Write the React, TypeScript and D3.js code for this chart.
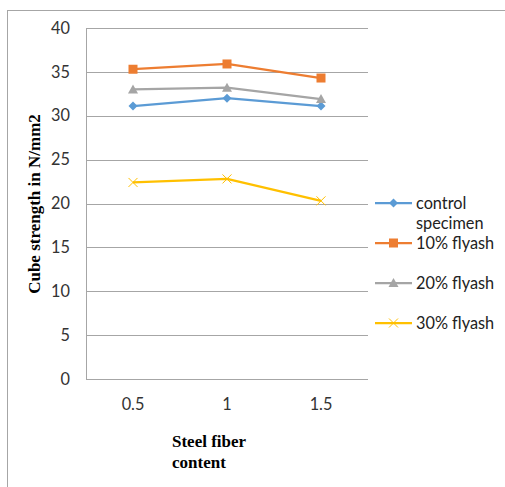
import React from "react";
import * as d3 from "d3";

const categories = ["0.5", "1", "1.5"];
const seriesNames = ["control specimen", "10% flyash", "20% flyash", "30% flyash"];
const controlValues = [31.1, 32.0, 31.1];
const fly10Values = [35.3, 35.9, 34.3];
const fly20Values = [33.0, 33.2, 31.9];
const fly30Values = [22.4, 22.8, 20.3];
const yTicks = [0, 5, 10, 15, 20, 25, 30, 35, 40];
const colors = ["#5B9BD5", "#ED7D31", "#A5A5A5", "#FFC000"];
const markers = ["diamond", "square", "triangle", "x"];

const W = 505, H = 487;
const plot = { left: 86, right: 368, top: 28, bottom: 379 };

function Marker({ type, x, y, color }: { type: string; x: number; y: number; color: string }) {
  if (type === "diamond") {
    const s = 4.5;
    return <path d={`M${x},${y - s}L${x + s},${y}L${x},${y + s}L${x - s},${y}Z`} fill={color} />;
  }
  if (type === "square") {
    const s = 4.5;
    return <rect x={x - s} y={y - s} width={2 * s} height={2 * s} fill={color} />;
  }
  if (type === "triangle") {
    const s = 5;
    return <path d={`M${x},${y - s}L${x + s},${y + s * 0.8}L${x - s},${y + s * 0.8}Z`} fill={color} />;
  }
  const s = 4.5;
  return (
    <path d={`M${x - s},${y - s}L${x + s},${y + s}M${x - s},${y + s}L${x + s},${y - s}`} stroke={color} strokeWidth={1} fill="none" />
  );
}

export default function App() {
  const series = [controlValues, fly10Values, fly20Values, fly30Values];
  const x = d3.scaleBand().domain(categories).range([plot.left, plot.right]);
  const y = d3.scaleLinear().domain([0, 40]).range([plot.bottom, plot.top]);
  const line = d3
    .line<number>()
    .x((_, i) => (x(categories[i]) as number) + x.bandwidth() / 2)
    .y((d) => y(d));

  const tickFont = "Lato, 'Open Sans', sans-serif";
  const fs = 16.3;
  const legendRows = [
    { y: 203, lines: ["control", "specimen"] },
    { y: 243, lines: ["10% flyash"] },
    { y: 283, lines: ["20% flyash"] },
    { y: 323, lines: ["30% flyash"] },
  ];

  return (
    <svg width={W} height={H} style={{ position: "absolute", left: 0, top: 0, background: "#fff" }}>
      <rect x={7.5} y={10.5} width={W + 10} height={H + 10} fill="#fff" stroke="#a6a6a6" strokeWidth={1} />
      {yTicks.map((t) => (
        <g key={t}>
          {t > 0 && (
            <line x1={plot.left} x2={plot.right} y1={Math.round(y(t)) + 0.5} y2={Math.round(y(t)) + 0.5} stroke="#a6a6a6" strokeWidth={1} />
          )}
          <text x={70} y={y(t)} dy="0.35em" textAnchor="end" fontSize={fs} fontFamily={tickFont} fill="#333">
            {t}
          </text>
        </g>
      ))}
      <line x1={plot.left + 0.5} x2={plot.left + 0.5} y1={plot.top} y2={plot.bottom} stroke="#a6a6a6" />
      <line x1={plot.left} x2={plot.right} y1={plot.bottom + 0.5} y2={plot.bottom + 0.5} stroke="#a6a6a6" />
      {categories.map((c) => (
        <text key={c} x={(x(c) as number) + x.bandwidth() / 2} y={404} dy="0.35em" textAnchor="middle" fontSize={fs} fontFamily={tickFont} fill="#333">
          {c}
        </text>
      ))}
      {series.map((vals, si) => (
        <g key={si}>
          <path d={line(vals) || ""} fill="none" stroke={colors[si]} strokeWidth={2.25} strokeLinejoin="round" />
          {vals.map((v, i) => (
            <Marker key={i} type={markers[si]} x={(x(categories[i]) as number) + x.bandwidth() / 2} y={y(v)} color={colors[si]} />
          ))}
        </g>
      ))}
      <text
        transform={`translate(40,204) rotate(-90)`}
        textAnchor="middle"
        fontFamily="'Liberation Serif', 'Times New Roman', serif"
        fontWeight="bold"
        fontSize={17}
        fill="#000"
      >
        Cube strength in N/mm2
      </text>
      <text fontFamily="'Liberation Serif', 'Times New Roman', serif" fontWeight="bold" fontSize={17} fill="#000">
        <tspan x={172} y={447}>Steel fiber</tspan>
        <tspan x={172} y={468}>content</tspan>
      </text>
      {legendRows.map((r, i) => (
        <g key={i}>
          <line x1={375} x2={412} y1={r.y} y2={r.y} stroke={colors[i]} strokeWidth={2.25} />
          <Marker type={markers[i]} x={393.5} y={r.y} color={colors[i]} />
          {r.lines.map((l, j) => (
            <text key={j} x={416} y={r.y + j * 20} dy="0.35em" fontSize={fs} fontFamily={tickFont} fill="#222">
              {l}
            </text>
          ))}
        </g>
      ))}
      <desc>{seriesNames.join(", ")}</desc>
    </svg>
  );
}
